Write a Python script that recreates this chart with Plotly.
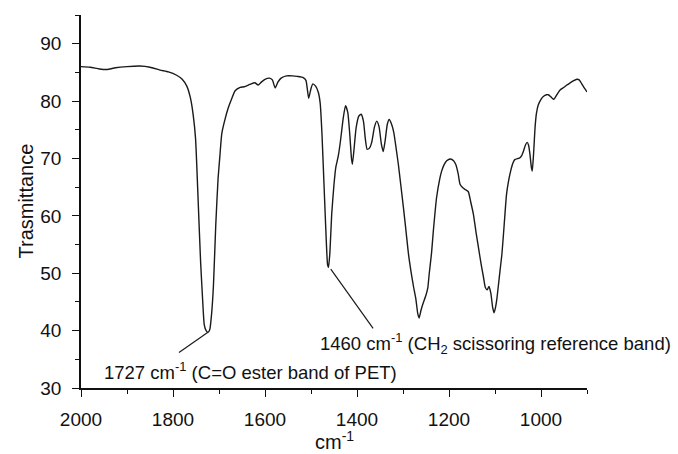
import plotly.graph_objects as go

wavenumber = [2000, 1980, 1960, 1944, 1925, 1900, 1872, 1850, 1828, 1810, 1792, 1780, 1770, 1762, 1756,
              1751, 1745, 1740, 1736, 1732, 1728, 1724, 1720, 1716, 1712, 1707, 1702, 1698, 1694, 1687,
              1680, 1672, 1665, 1654, 1645, 1633, 1622, 1615, 1608, 1600, 1590, 1584, 1578, 1572, 1565,
              1553, 1540, 1530, 1517, 1511, 1505, 1500, 1496, 1490, 1484, 1480, 1476, 1472, 1468, 1464,
              1462, 1459, 1455, 1450, 1446, 1441, 1436, 1430, 1425, 1420, 1416, 1412, 1410, 1406, 1402,
              1396, 1391, 1386, 1382, 1378, 1373, 1368, 1362, 1357, 1352, 1347, 1343, 1339, 1334, 1330,
              1325, 1320, 1315, 1310, 1305, 1299, 1293, 1288, 1281, 1277, 1272, 1268, 1265, 1261, 1257,
              1250, 1246, 1243, 1238, 1234, 1227, 1220, 1216, 1210, 1205, 1197, 1190, 1185, 1180, 1176,
              1170, 1165, 1158, 1153, 1147, 1141, 1136, 1130, 1125, 1121, 1117, 1113, 1109, 1105, 1102,
              1099, 1096, 1093, 1089, 1085, 1080, 1075, 1070, 1066, 1061, 1057, 1050, 1046, 1042, 1038,
              1034, 1030, 1027, 1024, 1021, 1019, 1016, 1013, 1010, 1006, 1000, 995, 988, 984, 978,
              972, 967, 959, 950, 944, 936, 930, 922, 917, 912, 906, 900]
transmittance = [86.0, 85.9, 85.6, 85.5, 85.8, 86.0, 86.1, 85.9, 85.4, 85.1, 84.5, 83.8, 82.6, 80.5, 77.5,
                 73.5, 62.0, 52.0, 46.0, 41.0, 40.0, 39.7, 40.2, 43.0, 48.0, 58.5, 66.5, 70.5, 74.3, 76.8,
                 78.8, 80.5, 81.8, 82.4, 82.5, 82.9, 83.2, 82.8, 83.3, 83.8, 84.0, 83.7, 82.3, 83.3, 84.0,
                 84.4, 84.4, 84.3, 84.1, 83.6, 80.5, 82.2, 83.0, 82.6, 81.5, 79.6, 74.0, 66.0, 58.0, 51.5,
                 51.0, 53.5, 60.3, 65.5, 68.5, 70.3, 73.0, 77.0, 79.2, 78.0, 74.5, 70.0, 69.0, 72.0, 75.3,
                 77.4, 77.7, 76.5, 73.5, 71.6, 71.8, 72.8, 75.5, 76.5, 75.5, 72.5, 71.2, 73.0, 76.0, 76.8,
                 76.0, 74.5, 71.8, 68.9, 65.5, 61.4, 57.0, 53.3, 49.5, 47.6, 45.5, 43.0, 42.2, 43.5, 44.6,
                 46.2, 47.5, 49.9, 53.5, 57.4, 63.2, 66.5, 67.8, 69.0, 69.6, 69.9, 69.6, 68.9, 67.3, 65.5,
                 64.9, 64.6, 64.2, 62.5, 60.3, 57.0, 54.5, 51.5, 49.3, 47.5, 47.1, 47.7, 46.5, 44.0, 43.1,
                 44.0, 45.5, 47.6, 50.5, 53.3, 58.5, 63.7, 66.3, 67.8, 69.2, 69.8, 70.0, 70.1, 70.5, 71.3,
                 72.3, 72.8, 72.3, 70.7, 68.5, 67.8, 71.0, 75.3, 77.8, 79.3, 80.3, 80.8, 81.1, 81.1, 80.7,
                 80.3, 80.9, 81.9, 82.4, 82.8, 83.2, 83.5, 83.8, 83.7, 83.1, 82.3, 81.6]

x_tickvals = [2000, 1800, 1600, 1400, 1200, 1000]
y_tickvals = [30, 40, 50, 60, 70, 80, 90]
x_title = "cm<sup>-1</sup>"
y_title = "Trasmittance"

# annotation texts and leader lines (data coordinates)
label_texts = ["1727 cm<sup>-1</sup> (C=O ester band of PET)",
               "1460 cm<sup>-1</sup> (CH<sub>2</sub> scissoring reference band)"]
label_pos = [(1954, 32.9), (1484, 37.8)]
leader_lines = [((1724, 39.7), (1787, 36.2)),
                ((1457, 50.7), (1365, 40.4))]

FONT = "Liberation Sans, Arial, sans-serif"
INK = "#111"

fig = go.Figure()
fig.add_trace(go.Scatter(x=wavenumber, y=transmittance, mode="lines",
                         line=dict(color="#1a1a1a", width=1.4, shape="spline", smoothing=0.5),
                         hoverinfo="skip", showlegend=False))

for (p0, p1) in leader_lines:
    fig.add_shape(type="line", xref="x", yref="y", x0=p0[0], y0=p0[1], x1=p1[0], y1=p1[1],
                  line=dict(color="#1a1a1a", width=1.2))

for txt, (lx, ly) in zip(label_texts, label_pos):
    fig.add_annotation(x=lx, y=ly, xref="x", yref="y", text=txt, showarrow=False,
                       xanchor="left", yanchor="middle", font=dict(size=18.5, color=INK, family=FONT))

# axis titles
fig.add_annotation(x=0.5, y=0, xref="paper", yref="paper", text=x_title, showarrow=False,
                   xanchor="center", yanchor="middle", yshift=-52,
                   font=dict(size=20, color=INK, family=FONT))
fig.add_annotation(x=0, y=0.5, xref="paper", yref="paper", text=y_title, showarrow=False,
                   xanchor="center", yanchor="middle", xshift=-56, textangle=-90,
                   font=dict(size=20, color=INK, family=FONT))

fig.update_layout(
    width=678, height=454,
    margin=dict(l=81, r=91, t=15, b=66),
    paper_bgcolor="white", plot_bgcolor="white",
    font=dict(family=FONT, size=19, color=INK),
    showlegend=False,
)
fig.update_xaxes(range=[2000, 900], autorange=False, automargin=False, showgrid=False, zeroline=False,
                 showline=True, linecolor=INK, linewidth=1.5,
                 ticks="outside", ticklen=7, tickwidth=1.3, tickcolor=INK,
                 tickvals=x_tickvals, ticktext=[str(v) for v in x_tickvals],
                 ticklabelstandoff=6,
                 minor=dict(dtick=100, tick0=0, ticks="outside", ticklen=4, tickwidth=1.2, tickcolor=INK),
                 tickfont=dict(size=19))
fig.update_yaxes(range=[30, 95], autorange=False, automargin=False, showgrid=False, zeroline=False,
                 showline=True, linecolor=INK, linewidth=1.5,
                 ticks="outside", ticklen=7, tickwidth=1.3, tickcolor=INK,
                 tickvals=y_tickvals, ticktext=[str(v) for v in y_tickvals],
                 ticklabelstandoff=7,
                 minor=dict(dtick=5, tick0=0, ticks="outside", ticklen=4, tickwidth=1.2, tickcolor=INK),
                 tickfont=dict(size=19))

fig.write_html("out.html")
